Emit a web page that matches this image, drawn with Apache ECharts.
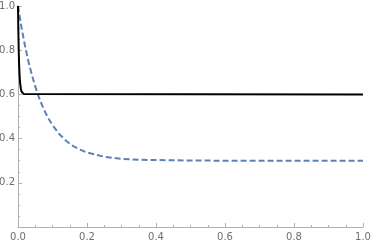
<!DOCTYPE html>
<html><head><meta charset="utf-8">
<script src="https://cdn.jsdelivr.net/npm/echarts@6/dist/echarts.min.js"></script>
<style>html,body{margin:0;padding:0;background:#fff}#c{width:371px;height:245px}</style>
</head><body><div id="c"></div>
<script>
var xTicks = ['0.0','0.2','0.4','0.6','0.8','1.0'];
var yTicks = ['0.2','0.4','0.6','0.8','1.0'];
var blackX = [0, 0.001, 0.002, 0.003, 0.004, 0.005, 0.006, 0.008, 0.010, 0.013, 0.016, 0.020, 1.0];
var blackY = [1.0, 0.887, 0.805, 0.747, 0.705, 0.676, 0.654, 0.628, 0.614, 0.605, 0.602, 0.600, 0.600];
var blueX = [0, 0.01, 0.02, 0.03, 0.04, 0.05, 0.06, 0.07, 0.08, 0.09, 0.10, 0.12, 0.14, 0.16, 0.18, 0.20, 0.25, 0.30, 0.35, 0.40, 0.50, 0.60, 1.0];
var blueY = [1.0, 0.904, 0.822, 0.750, 0.689, 0.636, 0.590, 0.550, 0.516, 0.486, 0.461, 0.420, 0.389, 0.366, 0.350, 0.337, 0.318, 0.308, 0.304, 0.303, 0.301, 0.300, 0.300];

function pairs(xs, ys){ return xs.map(function(x,i){return [x, ys[i]];}); }
var axisGray = '#b0b0b0';
var labelGray = '#6e6e6e';
var chart = echarts.init(document.getElementById('c'), null, {renderer:'canvas'});
chart.setOption({
  animation:false,
  grid:{left:18, right:8, top:6, bottom:18, containLabel:false, outerBoundsMode:'none'},
  xAxis:{type:'value', min:0, max:1, interval:0.2,
    axisLine:{show:true, onZero:false, lineStyle:{color:axisGray, width:1}},
    axisTick:{show:true, inside:true, length:4, lineStyle:{color:axisGray}},
    minorTick:{show:true, splitNumber:4, length:2, lineStyle:{color:axisGray}},
    splitLine:{show:false},
    axisLabel:{color:labelGray, fontSize:10, fontFamily:'DejaVu Sans', margin:5,
      formatter:function(v){ var s=v.toFixed(1); return xTicks.indexOf(s)>=0?s:''; }}
  },
  yAxis:{type:'value', min:0, max:1, interval:0.2,
    axisLine:{show:true, onZero:false, lineStyle:{color:axisGray, width:1}},
    axisTick:{show:true, inside:true, length:4, lineStyle:{color:axisGray}},
    minorTick:{show:true, splitNumber:4, length:2, lineStyle:{color:axisGray}},
    splitLine:{show:false},
    axisLabel:{color:labelGray, fontSize:10, fontFamily:'DejaVu Sans', margin:3,
      formatter:function(v){ var s=v.toFixed(1); return yTicks.indexOf(s)>=0?s:''; }}
  },
  series:[
    {type:'line', data:pairs(blueX, blueY), showSymbol:false, smooth:false,
      lineStyle:{color:'#5E81B5', width:2, type:[6,3]}},
    {type:'line', data:pairs(blackX, blackY), showSymbol:false, smooth:false,
      lineStyle:{color:'#000', width:2}}
  ]
});
</script></body></html>
